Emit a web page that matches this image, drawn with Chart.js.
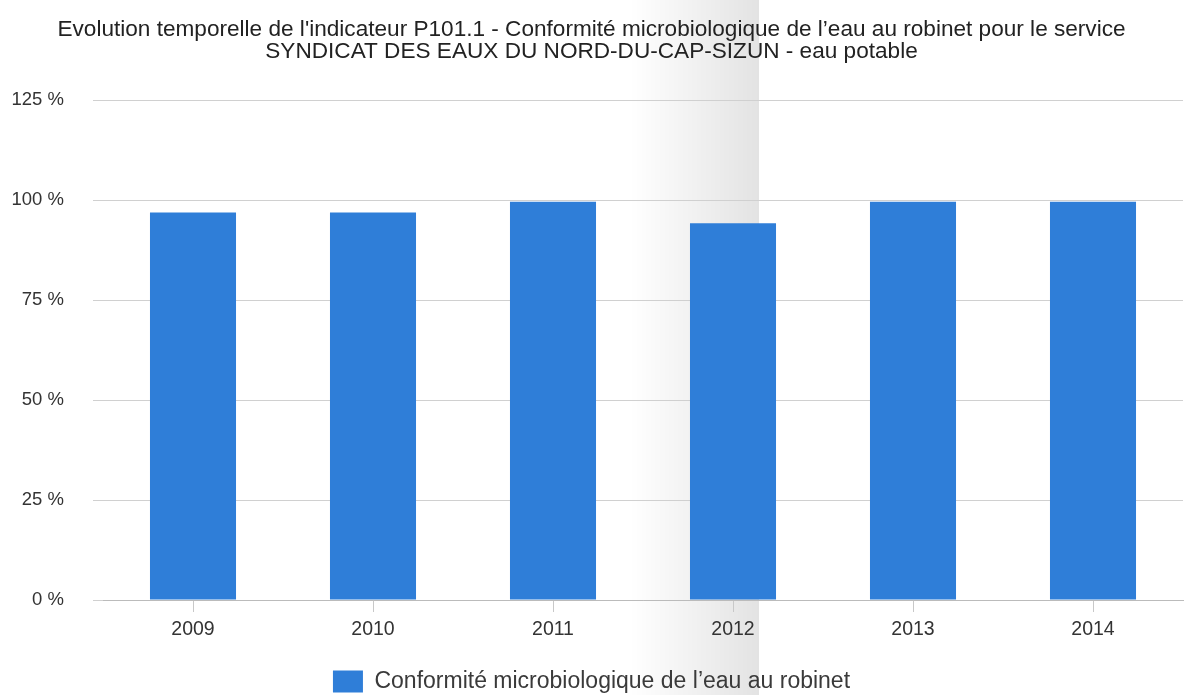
<!DOCTYPE html>
<html>
<head>
<meta charset="utf-8">
<script src="https://cdn.jsdelivr.net/npm/chart.js@4/dist/chart.umd.min.js"></script>
<style>
  html, body { margin: 0; padding: 0; background: #fff; }
  #box { width: 1185px; height: 695px; }
</style>
</head>
<body>
<div id="box"><canvas id="graphique"></canvas></div>
<script>
// données
const annees = ['2009', '2010', '2011', '2012', '2013', '2014'];
const conformite = [96.9, 96.9, 99.6, 94.2, 99.6, 99.6];
const graduations = [0, 25, 50, 75, 100, 125];

const titre = [
  "Evolution temporelle de l'indicateur P101.1 - Conformité microbiologique de l’eau au robinet pour le service",
  'SYNDICAT DES EAUX DU NORD-DU-CAP-SIZUN - eau potable'
];
const libelleSerie = 'Conformité microbiologique de l’eau au robinet';

const police = 'Arial, "Liberation Sans", sans-serif';

// ombre grise de la capture d'écran
const ombre = {
  id: 'ombre',
  beforeDraw(chart) {
    const ctx = chart.ctx;
    const g = ctx.createLinearGradient(630, 0, 759, 0);
    g.addColorStop(0, 'rgba(0,0,0,0)');
    g.addColorStop(1, 'rgba(0,0,0,0.11)');
    ctx.save();
    ctx.fillStyle = g;
    ctx.fillRect(630, 0, 129, chart.height);
    ctx.restore();
  }
};

new Chart(document.getElementById('graphique'), {
  type: 'bar',
  data: {
    labels: annees,
    datasets: [{
      label: libelleSerie,
      data: conformite,
      backgroundColor: '#2f7ed8',
      borderWidth: 0,
      barPercentage: 0.478,
      categoryPercentage: 1
    }]
  },
  options: {
    responsive: true,
    maintainAspectRatio: false,
    animation: false,
    layout: { padding: { left: 0, right: 2, top: 0, bottom: -8 } },
    plugins: {
      title: {
        display: true,
        text: titre,
        color: '#222',
        font: { family: police, size: 22.6, weight: 'normal', lineHeight: 0.975 },
        padding: { top: 19, bottom: 37 }
      },
      legend: {
        position: 'bottom',
        labels: {
          color: '#3a3a3a',
          boxWidth: 30,
          boxHeight: 22,
          padding: 4,
          font: { family: police, size: 23 }
        }
      },
      tooltip: { enabled: false }
    },
    scales: {
      x: {
        grid: {
          offset: false,
          drawOnChartArea: false,
          drawTicks: true,
          tickLength: 12,
          color: '#c8c8c8'
        },
        border: { color: '#bbb' },
        ticks: {
          color: '#333',
          padding: 6,
          font: { family: police, size: 19.5 }
        },
        afterFit: (scale) => { scale.height = 66; }
      },
      y: {
        min: 0,
        max: 125,
        afterBuildTicks: (scale) => { scale.ticks = graduations.map(v => ({ value: v })); },
        grid: {
          color: '#d0d0d0',
          tickLength: 10,
          tickColor: '#d0d0d0'
        },
        border: { display: false },
        ticks: {
          color: '#333',
          padding: 29,
          font: { family: police, size: 18.5 },
          callback: (v) => v + ' %'
        },
        afterFit: (scale) => { scale.width = 103; }
      }
    }
  },
  plugins: [ombre]
});
</script>
</body>
</html>
